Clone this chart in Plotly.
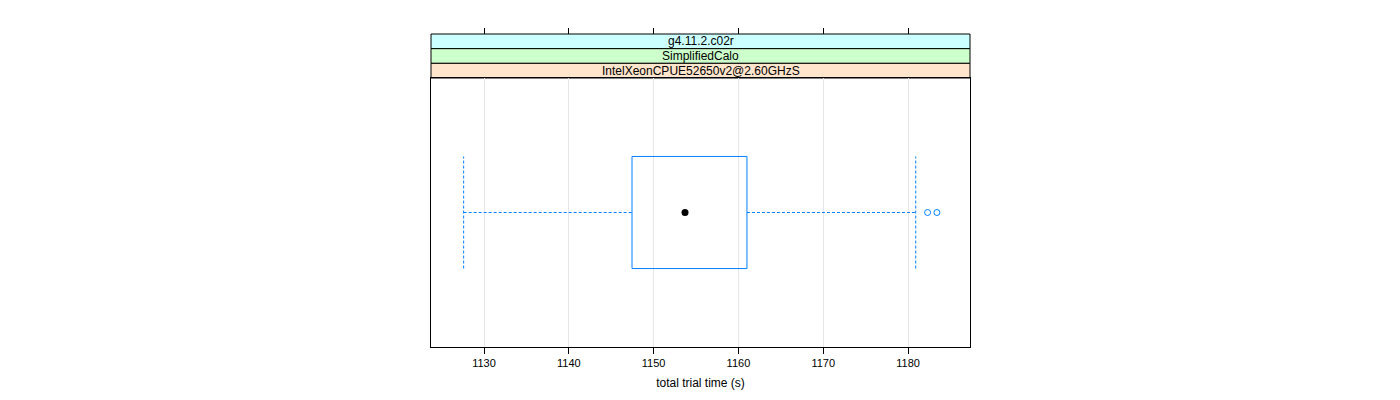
"""Lattice-style box-and-whisker panel for total trial time."""

import plotly.graph_objects as go

# ---------------------------------------------------------------------------
# Data
# ---------------------------------------------------------------------------

STRIP_LABELS = ["g4.11.2.c02r", "SimplifiedCalo", "IntelXeonCPUE52650v2@2.60GHzS"]
STRIP_COLORS = ["#ccffff", "#ccffcc", "#ffe5cc"]

WHISKER_LOW = 1127.6
Q1 = 1147.45
MEDIAN = 1153.7
Q3 = 1161.0
WHISKER_HIGH = 1180.9
OUTLIERS = [1182.3, 1183.4]

TICK_VALUES = [1130, 1140, 1150, 1160, 1170, 1180]
X_RANGE = [1123.75, 1187.3]

BOX_COLOR = "#0080ff"
FONT = "Liberation Sans, Arial, sans-serif"

# box geometry in lattice units: one category at y=1, range 0.4..1.6
Y_CENTER = 1.0
BOX_HALF = 0.25
Y_RANGE = [0.4, 1.6]

# layout (pixels); page body adds ~8px offset, compensated here
WIDTH, HEIGHT = 1400, 400
MARGIN = dict(l=423, r=438, t=26, b=61)
PLOT_H = 269

fig = go.Figure()

# box outline
fig.add_trace(go.Scatter(
    x=[Q1, Q3, Q3, Q1, Q1],
    y=[Y_CENTER - BOX_HALF, Y_CENTER - BOX_HALF, Y_CENTER + BOX_HALF,
       Y_CENTER + BOX_HALF, Y_CENTER - BOX_HALF],
    mode="lines", line=dict(color=BOX_COLOR, width=1),
    hoverinfo="skip", showlegend=False,
))

# whiskers (dashed)
for x0, x1 in [(WHISKER_LOW, Q1), (Q3, WHISKER_HIGH)]:
    fig.add_trace(go.Scatter(
        x=[x0, x1], y=[Y_CENTER, Y_CENTER], mode="lines",
        line=dict(color=BOX_COLOR, width=1, dash="3px,2px"),
        hoverinfo="skip", showlegend=False,
    ))
for xc in [WHISKER_LOW, WHISKER_HIGH]:
    fig.add_trace(go.Scatter(
        x=[xc, xc], y=[Y_CENTER - BOX_HALF, Y_CENTER + BOX_HALF], mode="lines",
        line=dict(color=BOX_COLOR, width=1, dash="3px,2px"),
        hoverinfo="skip", showlegend=False,
    ))

# median dot
fig.add_trace(go.Scatter(
    x=[MEDIAN], y=[Y_CENTER], mode="markers",
    marker=dict(color="black", size=7, symbol="circle"),
    showlegend=False,
))

# outliers
fig.add_trace(go.Scatter(
    x=OUTLIERS, y=[Y_CENTER] * len(OUTLIERS), mode="markers",
    marker=dict(color=BOX_COLOR, size=6, symbol="circle-open",
                line=dict(width=1)),
    showlegend=False,
))

# invisible trace to carry the top tick axis
fig.add_trace(go.Scatter(
    x=X_RANGE, y=[Y_CENTER, Y_CENTER], xaxis="x2", mode="markers",
    marker=dict(opacity=0), hoverinfo="skip", showlegend=False,
))

plot_frac = PLOT_H / (HEIGHT - MARGIN["t"] - MARGIN["b"])
strip_frac = (1 - plot_frac) / len(STRIP_LABELS)

# strips, top to bottom
shapes = []
annotations = []
for i, (label, color) in enumerate(zip(STRIP_LABELS, STRIP_COLORS)):
    top = 1 - i * strip_frac
    bottom = top - strip_frac
    shapes.append(dict(
        type="rect", xref="paper", yref="paper", x0=0, x1=1, y0=bottom, y1=top,
        fillcolor=color, line=dict(color="black", width=1), layer="below",
    ))
    annotations.append(dict(
        text=label, xref="paper", yref="paper", x=0.5, y=(top + bottom) / 2,
        showarrow=False, font=dict(family=FONT, size=12, color="black"),
        xanchor="center", yanchor="middle",
    ))

fig.update_layout(
    width=WIDTH, height=HEIGHT, margin=MARGIN,
    paper_bgcolor="white", plot_bgcolor="white",
    font=dict(family=FONT, size=11, color="black"),
    shapes=shapes, annotations=annotations,
    xaxis=dict(
        range=X_RANGE, tickvals=TICK_VALUES, ticks="outside", ticklen=6,
        tickcolor="black", showline=True, linecolor="black", mirror=True,
        showgrid=True, gridcolor="#e6e6e6", zeroline=False,
        title=dict(text="total trial time (s)", font=dict(size=12), standoff=10),
        tickfont=dict(size=11),
    ),
    xaxis2=dict(
        range=X_RANGE, tickvals=TICK_VALUES, ticks="outside", ticklen=6,
        tickcolor="black", showticklabels=False, showgrid=False, zeroline=False,
        showline=False, side="top", anchor="free", position=1, overlaying="x",
    ),
    yaxis=dict(
        range=Y_RANGE, domain=[0, plot_frac], showticklabels=False, ticks="",
        showgrid=False, zeroline=False, showline=True, linecolor="black",
        mirror=True,
    ),
)

fig.write_html("out.html")
